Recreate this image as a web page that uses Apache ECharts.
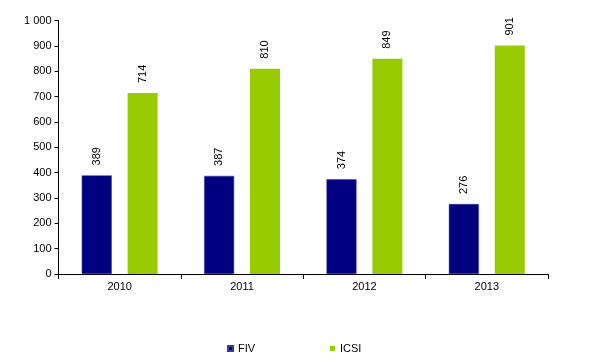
<!DOCTYPE html>
<html>
<head>
<meta charset="utf-8">
<script src="https://cdn.jsdelivr.net/npm/echarts@6/dist/echarts.min.js"></script>
<style>html,body{margin:0;padding:0;background:#fff}#c{width:600px;height:363px}</style>
</head>
<body>
<div id="c"></div>
<script>
var categories = ['2010', '2011', '2012', '2013'];
var fivValues = [389, 387, 374, 276];
var icsiValues = [714, 810, 849, 901];
var seriesNames = ['FIV', 'ICSI'];
var yTicks = [0, 100, 200, 300, 400, 500, 600, 700, 800, 900, 1000];

var chart = echarts.init(document.getElementById('c'));
var font = 'Liberation Sans, Arial, sans-serif';
var lbl = {
  show: true, position: 'top', rotate: 90, align: 'left', verticalAlign: 'middle',
  distance: 10, fontFamily: font, fontSize: 11, color: '#000'
};
chart.setOption({
  animation: false,
  grid: { left: 58.5, right: 52, top: 20.5, bottom: 89 },
  legend: [
    { data: [seriesNames[0]], left: 222, top: 338, itemWidth: 5, itemHeight: 5, itemGap: 4,
      icon: 'rect', textStyle: { fontFamily: font, fontSize: 11, color: '#000' } },
    { data: [seriesNames[1]], left: 325, top: 338, itemWidth: 5, itemHeight: 5, itemGap: 4,
      icon: 'rect', textStyle: { fontFamily: font, fontSize: 11, color: '#000' } }
  ],
  xAxis: {
    type: 'category', data: categories,
    axisLine: { lineStyle: { color: '#000', width: 1 } },
    axisTick: { show: true, length: 5, lineStyle: { color: '#000' } },
    axisLabel: { fontFamily: font, fontSize: 11, color: '#000', margin: 7 }
  },
  yAxis: {
    type: 'value', min: 0, max: 1000, interval: 100,
    axisLine: { show: true, lineStyle: { color: '#000', width: 1 } },
    axisTick: { show: true, length: 4, lineStyle: { color: '#000' } },
    splitLine: { show: false },
    axisLabel: {
      fontFamily: font, fontSize: 11, color: '#000', margin: 7,
      formatter: function (v) { return yTicks.indexOf(v) >= 0 && v >= 1000 ? String(v).replace(/\B(?=(\d{3})+(?!\d))/g, ' ') : String(v); }
    }
  },
  series: [
    { name: seriesNames[0], type: 'bar', data: fivValues, barWidth: 30, barGap: '53%',
      itemStyle: { color: '#000080', borderColor: '#3a3a9a', borderWidth: 0.5 }, label: lbl },
    { name: seriesNames[1], type: 'bar', data: icsiValues, barWidth: 30,
      itemStyle: { color: '#99cc00' }, label: lbl }
  ]
});
</script>
</body>
</html>
